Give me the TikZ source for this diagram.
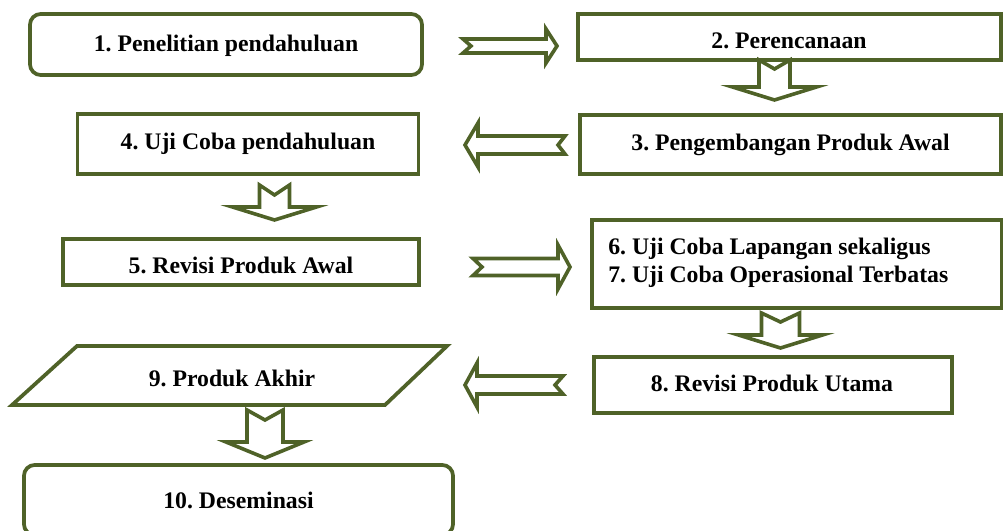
\documentclass[tikz,border=0pt]{standalone}
\usepackage{fontspec}
\setmainfont{Liberation Serif}
\newfontfamily\tnr{Liberation Serif}
\definecolor{olivedk}{HTML}{4F6228}
\newdimen\pxu \pxu=0.75pt
\tikzset{
  txt/.style={font=\tnr\bfseries\fontsize{17.8}{20}\selectfont\frenchspacing},
  box/.style={draw=olivedk, line width=2.8pt, fill=white, inner sep=0pt, txt, align=center},
  rbox/.style={box, rounded corners=8pt},
  lbl/.style={inner sep=0pt, txt, align=center},
  barrow/.style={draw=olivedk, line width=2.7pt, fill=white, line join=miter},
  pics/notched/.style args={#1/#2/#3/#4/#5}{code={
    \path[barrow] (0,#2) -- ({#1-#4},#2) -- ({#1-#4},#3) -- (#1,0)
      -- ({#1-#4},-#3) -- ({#1-#4},-#2) -- (0,-#2) -- (#5,0) -- cycle;}}
}
\begin{document}
\begin{tikzpicture}[x=0.75pt,y=-0.75pt]
\useasboundingbox (0,0) rectangle (1003,531);
% boxes
\node[rbox, minimum width=392\pxu, minimum height=61\pxu] (box1) at (226,44.5) {};
\node[lbl] (box1t) at (226,45.5) {1. Penelitian pendahuluan};
\node[box, minimum width=423\pxu, minimum height=46\pxu] (box2) at (789.5,37) {};
\node[lbl] (box2t) at (789,41) {2. Perencanaan};
\node[box, minimum width=421\pxu, minimum height=59\pxu] (box3) at (790.5,144.5) {3. Pengembangan Produk Awal};
\node[box, minimum width=341\pxu, minimum height=60\pxu] (box4) at (248,144) {4. Uji Coba pendahuluan};
\node[box, minimum width=356\pxu, minimum height=46\pxu] (box5) at (241,262) {};
\node[lbl] (box5t) at (241,265) {5. Revisi Produk Awal};
\node[box, minimum width=410\pxu, minimum height=88\pxu] (box6) at (797,264) {};
\node[lbl, anchor=west, align=left, font=\tnr\bfseries\fontsize{17.8}{21}\selectfont\frenchspacing] (box6t) at (608,263) {6. Uji Coba Lapangan sekaligus\\7. Uji Coba Operasional Terbatas};
\node[box, minimum width=358\pxu, minimum height=56\pxu] (box8) at (773,385) {};
\node[lbl] (box8t) at (772,383.5) {8. Revisi Produk Utama};
\draw[draw=olivedk, line width=2.8pt, fill=white, line join=miter]
  (77,346) coordinate (p1) -- (447,346) coordinate (p2) -- (385,405) coordinate (p3) -- (12,405) coordinate (p4) -- cycle;
\node[lbl] (box9) at (232,378) {9. Produk Akhir};
\node[rbox, minimum width=429\pxu, minimum height=70\pxu] (box10) at (238.5,500) {10. Deseminasi};
% block arrows
\pic at (463,46) {notched={94/7/17/11/8}};
\pic[rotate=-90] at (774.5,60) {notched={40/15.5/42/13/9}};
\pic[rotate=180] at (565,145) {notched={100/9/22/13/7}};
\pic[rotate=-90] at (274.5,185) {notched={35/15/42/13/10}};
\pic at (473,267) {notched={97/8.5/22/12/9}};
\pic[rotate=-90] at (780.5,313) {notched={35/19/42/13/9}};
\pic[rotate=180] at (563,385) {notched={98/9/22/12/8}};
\pic[rotate=-90] at (265,410) {notched={48/18/39/16/10}};
\end{tikzpicture}
\end{document}
